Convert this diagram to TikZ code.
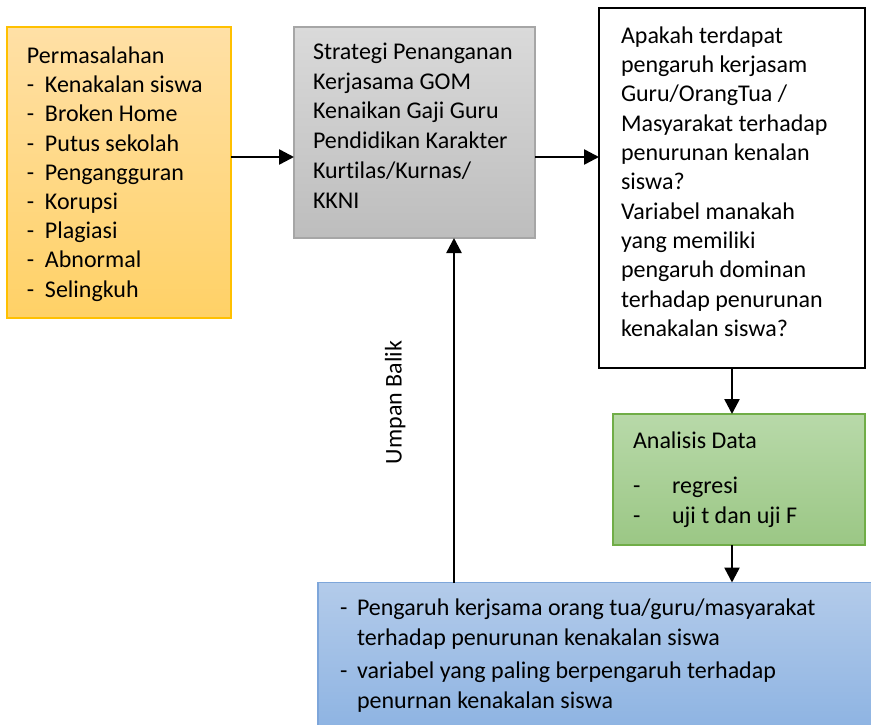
\documentclass[tikz,border=0pt]{standalone}
\usepackage{fontspec}
\setmainfont{Carlito}[Ligatures={NoCommon}]
\usetikzlibrary{arrows.meta}
\definecolor{orTop}{HTML}{FFE0A6}
\definecolor{orBot}{HTML}{FFD166}
\definecolor{orLine}{HTML}{FFC000}
\definecolor{grTop}{HTML}{DADADA}
\definecolor{grBot}{HTML}{BDBDBD}
\definecolor{grLine}{HTML}{A6A6A6}
\definecolor{gnTop}{HTML}{B8D9A9}
\definecolor{gnBot}{HTML}{9BC785}
\definecolor{gnLine}{HTML}{70AD47}
\definecolor{blTop}{HTML}{B3CBEA}
\definecolor{blBot}{HTML}{8DB3E2}
\definecolor{blLine}{HTML}{7EA6DA}
\begin{document}
\begin{tikzpicture}[x=1pt,y=-1pt,
  box/.style={rectangle, inner sep=0, outer sep=0},
  obox/.style={box, draw=orLine, line width=1.5pt, top color=orTop, bottom color=orBot},
  gbox/.style={box, draw=grLine, line width=1.5pt, top color=grTop, bottom color=grBot},
  wbox/.style={box, draw=black, line width=2.5pt, fill=white},
  nbox/.style={box, draw=gnLine, line width=1.5pt, top color=gnTop, bottom color=gnBot},
  bbox/.style={box, draw=blLine, line width=1.5pt, top color=blTop, bottom color=blBot},
  txt/.style={anchor=base west, inner sep=0, outer sep=0, font=\fontsize{24}{29}\selectfont},
  arr/.style={line width=2.5pt, -{Triangle[length=15pt,width=15pt]}}]
\useasboundingbox (0,0) rectangle (871,724);

% boxes
\node[obox, minimum width=224pt, minimum height=291pt] (prob) at (119,172.5) {};
\node[gbox, minimum width=241pt, minimum height=211pt] (strat) at (414.5,132.5) {};
\node[wbox, minimum width=266pt, minimum height=360pt] (quest) at (732,188) {};
\node[nbox, minimum width=252pt, minimum height=131pt] (anal) at (739,479.5) {};
\node[bbox, minimum width=560pt, minimum height=150pt] (res) at (598,657.5) {};

% left box text
\node[txt] (ptitle) at (27,63.5) {Permasalahan};
\foreach \t [count=\i] in {Kenakalan siswa, Broken Home, Putus sekolah, Pengangguran, Korupsi, Plagiasi, Abnormal, Selingkuh}{
  \node[txt] (pd\i) at (27,63.5+29.2*\i) {-};
  \node[txt] (p\i) at (45,63.5+29.2*\i) {\t};
}

% strategy text
\foreach \t [count=\i from 0] in {Strategi Penanganan, Kerjasama GOM, Kenaikan Gaji Guru, Pendidikan Karakter, Kurtilas/Kurnas/, KKNI}{
  \node[txt] (s\i) at (313,59.5+29.7*\i) {\t};
}

% question text
\foreach \t [count=\i from 0] in {Apakah terdapat, pengaruh kerjasam, Guru/OrangTua /, Masyarakat terhadap, penurunan kenalan, siswa?, Variabel manakah, yang memiliki, pengaruh dominan, terhadap penurunan, kenakalan siswa?}{
  \node[txt] (q\i) at (621,43.3+29.33*\i) {\t};
}

% analysis text
\node[txt] (a0) at (633,448.3) {Analisis Data};
\node[txt] (ad1) at (633,493.3) {-};
\node[txt] (a1) at (672,493.3) {regresi};
\node[txt] (ad2) at (633,523.3) {-};
\node[txt] (a2) at (672,523.3) {uji t dan uji F};

% result text
\node[txt] (rd1) at (340,615) {-};
\node[txt] (r1) at (357,615) {Pengaruh kerjsama orang tua/guru/masyarakat};
\node[txt] (r2) at (357,645) {terhadap penurunan kenakalan siswa};
\node[txt] (rd3) at (340,678) {-};
\node[txt] (r3) at (357,678) {variabel yang paling berpengaruh terhadap};
\node[txt] (r4) at (357,708) {penurnan kenakalan siswa};

% connectors
\coordinate (row) at (0,157);
\coordinate (fb) at (454,0);
\draw[arr] (prob.east |- row) -- (strat.west |- row);
\draw[arr] (strat.east |- row) -- (quest.west |- row);
\draw[arr] (quest.south) -- (anal.north -| quest.south);
\draw[arr] (anal.south -| quest.south) -- (res.north -| quest.south);
\draw[arr] (res.north -| fb) -- (strat.south -| fb);
\node[txt, anchor=base, rotate=90] (umpan) at (401.5,402.5) {Umpan Balik};
\end{tikzpicture}
\end{document}
